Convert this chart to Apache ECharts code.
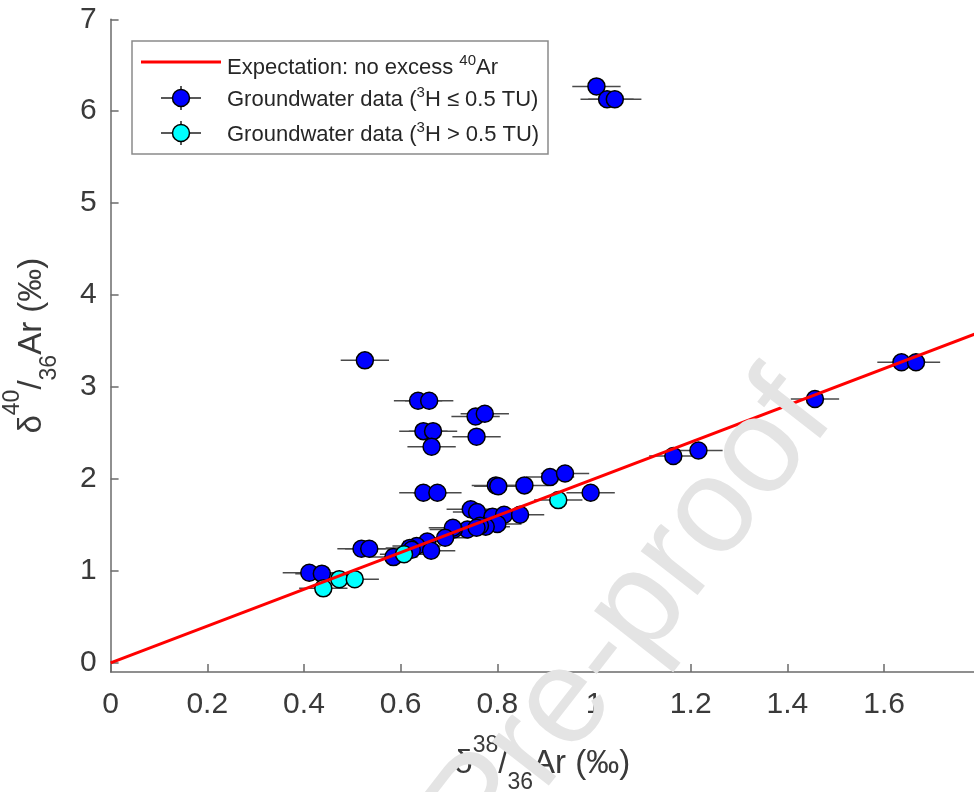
<!DOCTYPE html>
<html>
<head>
<meta charset="utf-8">
<script src="https://cdn.jsdelivr.net/npm/echarts@6/dist/echarts.min.js"></script>
<style>
  html, body { margin: 0; padding: 0; background: #fff; }
  #chart { width: 974px; height: 792px; }
</style>
</head>
<body>
<div id="chart"></div>
<script>
// groundwater samples, 3H <= 0.5 TU
var lowX = [
  1.005, 1.027, 1.043, 0.526, 0.636, 0.659, 0.755, 0.774, 0.647, 0.667,
  0.664, 0.757, 0.647, 0.676, 0.797, 0.802, 0.856, 0.909, 0.940, 0.993,
  0.745, 0.758, 0.790, 0.814, 0.847, 0.800, 0.776, 0.764, 0.738, 0.757,
  0.710, 0.708, 0.692, 0.655, 0.633, 0.619, 0.663, 0.623, 0.585, 0.519,
  0.535, 0.411, 0.437, 1.164, 1.216, 1.457, 1.636, 1.666
];
var lowY = [
  6.27, 6.13, 6.13, 3.29, 2.85, 2.85, 2.68, 2.71, 2.52, 2.52,
  2.35, 2.46, 1.85, 1.85, 1.93, 1.92, 1.93, 2.02, 2.06, 1.85,
  1.67, 1.64, 1.59, 1.61, 1.61, 1.51, 1.48, 1.49, 1.45, 1.47,
  1.45, 1.47, 1.36, 1.32, 1.27, 1.25, 1.22, 1.23, 1.15, 1.24,
  1.24, 0.98, 0.97, 2.25, 2.31, 2.87, 3.27, 3.27
];
var lowErr = [
  0.05, 0.055, 0.055, 0.05, 0.05, 0.05, 0.05, 0.05, 0.05, 0.05,
  0.05, 0.05, 0.05, 0.05, 0.05, 0.05, 0.05, 0.05, 0.05, 0.05,
  0.05, 0.05, 0.05, 0.05, 0.05, 0.05, 0.05, 0.05, 0.05, 0.05,
  0.05, 0.05, 0.05, 0.05, 0.05, 0.05, 0.05, 0.05, 0.05, 0.05,
  0.05, 0.055, 0.055, 0.05, 0.05, 0.05, 0.05, 0.05
];

// groundwater samples, 3H > 0.5 TU
var highX = [0.440, 0.473, 0.505, 0.607, 0.926];
var highY = [0.81, 0.91, 0.91, 1.18, 1.77];
var highErr = [0.05, 0.05, 0.05, 0.05, 0.05];

// expectation line (no excess 40Ar)
var lineX = [0, 1.8];
var lineY = [0, 3.6];

var xTicks = [0, 0.2, 0.4, 0.6, 0.8, 1, 1.2, 1.4, 1.6];
var yTicks = [0, 1, 2, 3, 4, 5, 6, 7];

var FONT = 'Liberation Sans, Arial, sans-serif';
var AXIS_COLOR = '#6b6b6b';
var TEXT_COLOR = '#3a3a3a';

function zip(xs, ys, es) {
  return xs.map(function (x, i) { return [x, ys[i], es[i]]; });
}

function errorBar(params, api) {
  var x = api.value(0), y = api.value(1), e = api.value(2);
  var a = api.coord([x - e, y]);
  var b = api.coord([x + e, y]);
  return {
    type: 'line',
    shape: { x1: a[0], y1: a[1], x2: b[0], y2: b[1] },
    style: { stroke: '#4a4a4a', lineWidth: 1.5 }
  };
}

var labelRich = {
  n: { fontSize: 33, fontFamily: FONT, color: TEXT_COLOR, lineHeight: 60, verticalAlign: 'middle' },
  sup: { fontSize: 23, fontFamily: FONT, color: TEXT_COLOR, lineHeight: 24, verticalAlign: 'top' },
  sub: { fontSize: 23, fontFamily: FONT, color: TEXT_COLOR, lineHeight: 24, verticalAlign: 'bottom' }
};

var legendRich = {
  n: { fontSize: 22, fontFamily: FONT, fill: '#262626', lineHeight: 30, verticalAlign: 'middle' },
  sup: { fontSize: 15, fontFamily: FONT, fill: '#262626', lineHeight: 16, verticalAlign: 'top' }
};

function legendMarker(cy, color) {
  return [
    { type: 'line', shape: { x1: 161, y1: cy, x2: 201, y2: cy }, style: { stroke: '#222', lineWidth: 1.5 } },
    { type: 'line', shape: { x1: 181, y1: cy - 12, x2: 181, y2: cy + 12 }, style: { stroke: '#222', lineWidth: 1.5 } },
    { type: 'circle', shape: { cx: 181, cy: cy, r: 8.5 }, style: { fill: color, stroke: '#000', lineWidth: 1.5 } }
  ];
}

var option = {
  animation: false,
  backgroundColor: '#fff',
  textStyle: { fontFamily: FONT },
  grid: { left: 110.6, top: 19.3, right: 0, bottom: 120, outerBoundsMode: 'none', containLabel: false },
  xAxis: {
    type: 'value',
    min: 0,
    max: 1.786,
    splitLine: { show: false },
    axisLine: { show: true, onZero: false, lineStyle: { color: AXIS_COLOR, width: 1.5 } },
    axisTick: { show: true, inside: true, length: 8, customValues: xTicks, lineStyle: { color: AXIS_COLOR, width: 1.5 } },
    axisLabel: { customValues: xTicks, fontSize: 30, color: TEXT_COLOR, margin: 18, fontFamily: FONT },
    name: '{n|δ}{sup|38}{n|/}{sub|36}{n|Ar (‰)}',
    nameLocation: 'middle',
    nameGap: 62,
    nameTextStyle: { rich: labelRich }
  },
  yAxis: {
    type: 'value',
    min: -0.1,
    max: 7,
    splitLine: { show: false },
    axisLine: { show: true, onZero: false, lineStyle: { color: AXIS_COLOR, width: 1.5 } },
    axisTick: { show: true, inside: true, length: 8, customValues: yTicks, lineStyle: { color: AXIS_COLOR, width: 1.5 } },
    axisLabel: { customValues: yTicks, fontSize: 30, color: TEXT_COLOR, margin: 14, fontFamily: FONT },
    name: '{n|δ}{sup|40}{n|/}{sub|36}{n|Ar (‰)}',
    nameLocation: 'middle',
    nameGap: 49,
    nameTextStyle: { rich: labelRich }
  },
  series: [
    {
      name: 'Expectation: no excess 40Ar',
      type: 'line',
      data: lineX.map(function (x, i) { return [x, lineY[i]]; }),
      showSymbol: false,
      clip: true,
      silent: true,
      lineStyle: { color: '#ff0000', width: 3 }
    },
    {
      type: 'custom',
      renderItem: errorBar,
      data: zip(lowX, lowY, lowErr),
      encode: { x: 0, y: 1 },
      silent: true
    },
    {
      name: 'Groundwater data (3H <= 0.5 TU)',
      type: 'scatter',
      data: lowX.map(function (x, i) { return [x, lowY[i]]; }),
      symbol: 'circle',
      symbolSize: 17,
      itemStyle: { color: '#0000ff', borderColor: '#000', borderWidth: 1.5, opacity: 1 },
      silent: true
    },
    {
      type: 'custom',
      renderItem: errorBar,
      data: zip(highX, highY, highErr),
      encode: { x: 0, y: 1 },
      silent: true
    },
    {
      name: 'Groundwater data (3H > 0.5 TU)',
      type: 'scatter',
      data: highX.map(function (x, i) { return [x, highY[i]]; }),
      symbol: 'circle',
      symbolSize: 17,
      itemStyle: { color: '#00ffff', borderColor: '#000', borderWidth: 1.5, opacity: 1 },
      silent: true
    }
  ],
  graphic: [
    {
      type: 'group',
      z: 50,
      children: [
        { type: 'rect', shape: { x: 132, y: 41, width: 416, height: 113 }, style: { fill: '#fff', stroke: '#8a8a8a', lineWidth: 1.5 } },
        { type: 'line', shape: { x1: 141, y1: 62, x2: 221, y2: 62 }, style: { stroke: '#ff0000', lineWidth: 3 } },
        { type: 'text', x: 227, y: 68, style: { text: '{n|Expectation: no excess }{sup|40}{n|Ar}', rich: legendRich, verticalAlign: 'middle' } }
      ]
        .concat(legendMarker(98, '#0000ff'))
        .concat([
          { type: 'text', x: 227, y: 100, style: { text: '{n|Groundwater data (}{sup|3}{n|H ≤ 0.5 TU)}', rich: legendRich, verticalAlign: 'middle' } }
        ])
        .concat(legendMarker(133, '#00ffff'))
        .concat([
          { type: 'text', x: 227, y: 135, style: { text: '{n|Groundwater data (}{sup|3}{n|H > 0.5 TU)}', rich: legendRich, verticalAlign: 'middle' } }
        ])
    },
    {
      type: 'text',
      z: 100,
      x: 632,
      y: 618,
      rotation: 52 * Math.PI / 180,
      style: {
        text: 'Pre-proof',
        font: '136px Liberation Sans, Arial, sans-serif',
        fill: '#e4e4e4',
        align: 'center',
        verticalAlign: 'middle'
      }
    }
  ]
};

echarts.init(document.getElementById('chart')).setOption(option);
</script>
</body>
</html>
